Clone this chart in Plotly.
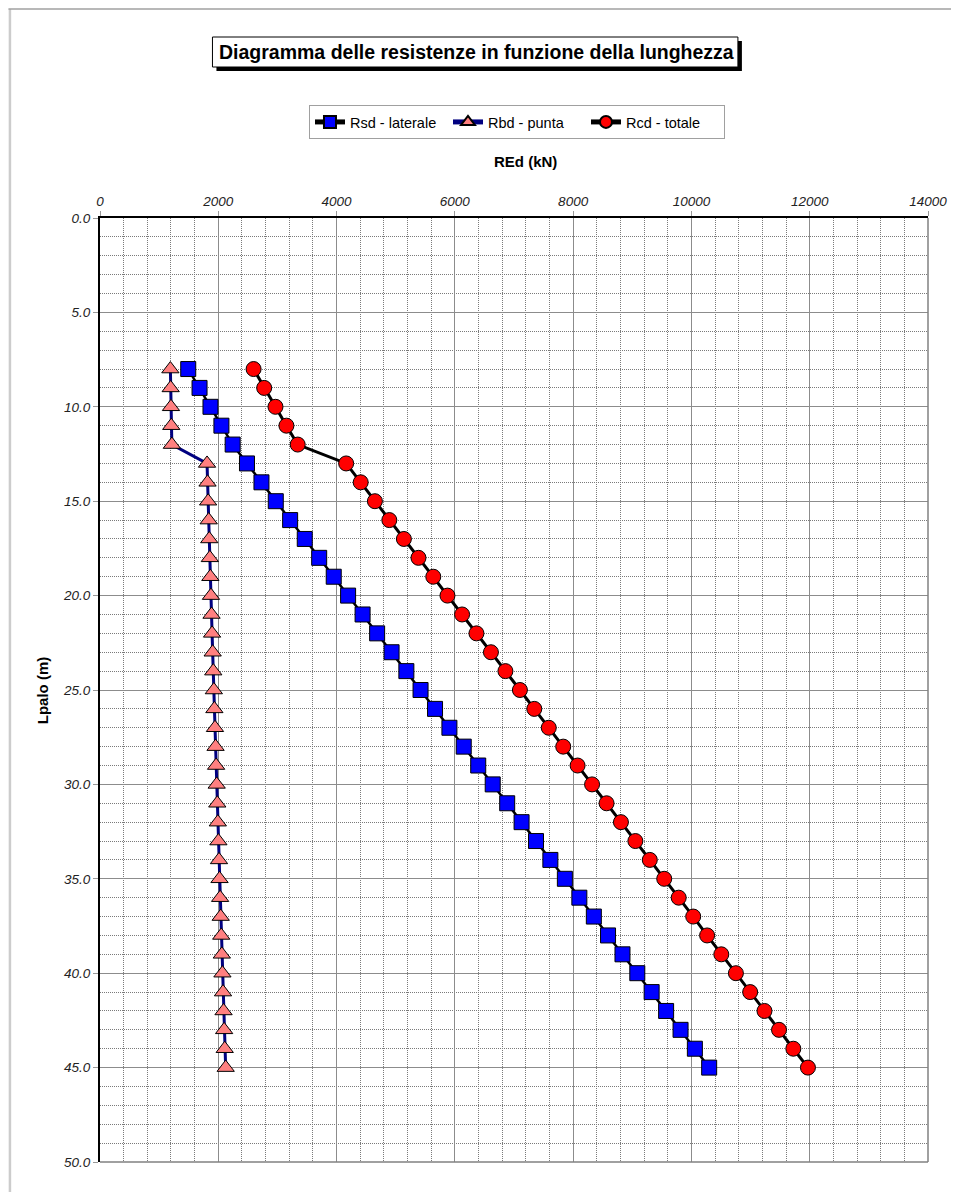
import plotly.graph_objects as go

# ---------------- data ----------------
depth = [8, 9, 10, 11, 12, 13, 14, 15, 16, 17, 18, 19, 20, 21, 22, 23, 24, 25, 26,
         27, 28, 29, 30, 31, 32, 33, 34, 35, 36, 37, 38, 39, 40, 41, 42, 43, 44, 45]

rsd_laterale = [1492, 1683, 1868, 2053, 2243,
                2485, 2730, 2972, 3215, 3462, 3706, 3952, 4195, 4440, 4686, 4930,
                5180, 5420, 5665, 5908, 6150, 6395, 6640, 6885, 7128, 7372, 7615,
                7860, 8105, 8350, 8590, 8834, 9085, 9327, 9572, 9816, 10058, 10300]

rbd_punta = [1190, 1195, 1200, 1205, 1215,
             1810, 1818, 1828, 1838, 1847, 1857, 1866, 1876, 1886, 1895, 1905,
             1915, 1925, 1934, 1944, 1954, 1963, 1973, 1983, 1992, 2002, 2012,
             2021, 2031, 2041, 2050, 2060, 2070, 2080, 2089, 2099, 2109, 2125]

rcd_totale = [2597, 2776, 2967, 3152, 3343,
              4162, 4408, 4648, 4892, 5138, 5385, 5635, 5875, 6122, 6365, 6610,
              6855, 7100, 7343, 7588, 7832, 8075, 8320, 8565, 8808, 9052, 9296,
              9540, 9785, 10030, 10265, 10505, 10752, 10993, 11235, 11481, 11723, 11970]

x_ticks = [0, 2000, 4000, 6000, 8000, 10000, 12000, 14000]
y_ticks = [0, 5, 10, 15, 20, 25, 30, 35, 40, 45, 50]

title_text = "Diagramma delle resistenze in funzione della lunghezza"
x_title = "REd (kN)"
y_title = "Lpalo (m)"

# ---------------- figure ----------------
OFF = 8                       # page body margin
W, H = 959 - OFF, 1192 - OFF
# plot area, in page pixels
L, R, T, B = 100, 932, 218, 1162


def px(x):
    return (x - L) / (R - L)


def py(y):
    return (B - y) / (B - T)


FONT = "Liberation Sans, Arial, sans-serif"

fig = go.Figure()

fig.add_trace(go.Scatter(
    x=rsd_laterale, y=depth, name="Rsd - laterale", mode="lines+markers",
    line=dict(color="black", width=2.5),
    marker=dict(symbol="square", size=15, color="#0000FF",
                line=dict(color="black", width=1)),
))
fig.add_trace(go.Scatter(
    x=rbd_punta, y=depth, name="Rbd - punta", mode="lines+markers",
    line=dict(color="#000080", width=3),
    marker=dict(symbol="triangle-up", size=15, color="#FF8080",
                line=dict(color="black", width=1)),
))
fig.add_trace(go.Scatter(
    x=rcd_totale, y=depth, name="Rcd - totale", mode="lines+markers",
    line=dict(color="black", width=3),
    marker=dict(symbol="circle", size=15, color="#FF0000",
                line=dict(color="black", width=1)),
))

tickfont = dict(family=FONT, size=13.5, color="#222222", style="italic")

fig.update_xaxes(
    side="top", range=[0, 14000], tickmode="array", tickvals=x_ticks,
    ticktext=[str(v) for v in x_ticks], tickfont=tickfont,
    showgrid=True, gridcolor="#8c8c8c", gridwidth=1,
    minor=dict(dtick=400, tick0=0, showgrid=True, gridcolor="#7a7a7a",
               griddash="1px,1px", gridwidth=1),
    showline=True, linecolor="black", linewidth=2,
    ticks="outside", ticklen=5, tickcolor="#999999",
    zeroline=False, fixedrange=True,
)
fig.update_yaxes(
    range=[50, 0], tickmode="array", tickvals=y_ticks,
    ticktext=[f"{v:.1f}" for v in y_ticks], tickfont=tickfont,
    showgrid=True, gridcolor="#8c8c8c", gridwidth=1,
    minor=dict(dtick=1, tick0=0, showgrid=True, gridcolor="#7a7a7a",
               griddash="1px,1px", gridwidth=1),
    showline=True, linecolor="black", linewidth=2,
    ticks="outside", ticklen=5, tickcolor="#999999",
    zeroline=False, fixedrange=True,
)

shapes = [
    # right & bottom frame of plot area (gray)
    dict(type="line", xref="paper", yref="paper", x0=1, x1=1, y0=0, y1=1,
         line=dict(color="#808080", width=1.5)),
    dict(type="line", xref="paper", yref="paper", x0=0, x1=1, y0=0, y1=0,
         line=dict(color="#808080", width=1.5)),
    # outer chart border (left and top visible)
    dict(type="line", xref="paper", yref="paper", x0=px(OFF + 1.5), x1=px(OFF + 1.5),
         y0=py(OFF + 1), y1=py(H + OFF + 20), line=dict(color="#cccccc", width=2.5)),
    dict(type="line", xref="paper", yref="paper", x0=px(OFF), x1=px(W + OFF + 20),
         y0=py(OFF + 1), y1=py(OFF + 1), line=dict(color="#a0a0a0", width=1.5)),
    # title box shadow and box
    dict(type="rect", xref="paper", yref="paper", x0=px(217), x1=px(745),
         y0=py(71), y1=py(41), fillcolor="black", line=dict(width=0)),
    dict(type="rect", xref="paper", yref="paper", x0=px(213), x1=px(741),
         y0=py(67), y1=py(37), fillcolor="white", line=dict(color="black", width=1)),
]

annotations = [
    dict(text=f"<b>{title_text}</b>", xref="paper", yref="paper",
         x=px(478), y=py(52), xanchor="center", yanchor="middle", showarrow=False,
         font=dict(family=FONT, size=19.5, color="black")),
    dict(text=f"<b>{x_title}</b>", xref="paper", yref="paper",
         x=px(528), y=py(162), xanchor="center", yanchor="middle", showarrow=False,
         font=dict(family=FONT, size=15, color="black")),
    dict(text=f"<b>{y_title}</b>", xref="paper", yref="paper",
         x=px(42), y=py(690), xanchor="center", yanchor="middle", showarrow=False,
         textangle=-90, font=dict(family=FONT, size=15, color="black")),
]

fig.update_layout(
    width=W, height=H,
    margin=dict(l=L - OFF, r=W + OFF - R, t=T - OFF, b=H + OFF - B),
    paper_bgcolor="white", plot_bgcolor="white",
    font=dict(family=FONT, size=12, color="black"),
    showlegend=True,
    legend=dict(orientation="h", x=px(519), y=py(122), xanchor="center",
                yanchor="middle", bordercolor="#a0a0a0", borderwidth=1,
                bgcolor="white", font=dict(family=FONT, size=14.5, color="black"),
                itemwidth=30, tracegroupgap=0, itemsizing="constant",
                entrywidth=93, entrywidthmode="pixels"),
    shapes=shapes,
    annotations=annotations,
)

fig.write_html("out.html")
